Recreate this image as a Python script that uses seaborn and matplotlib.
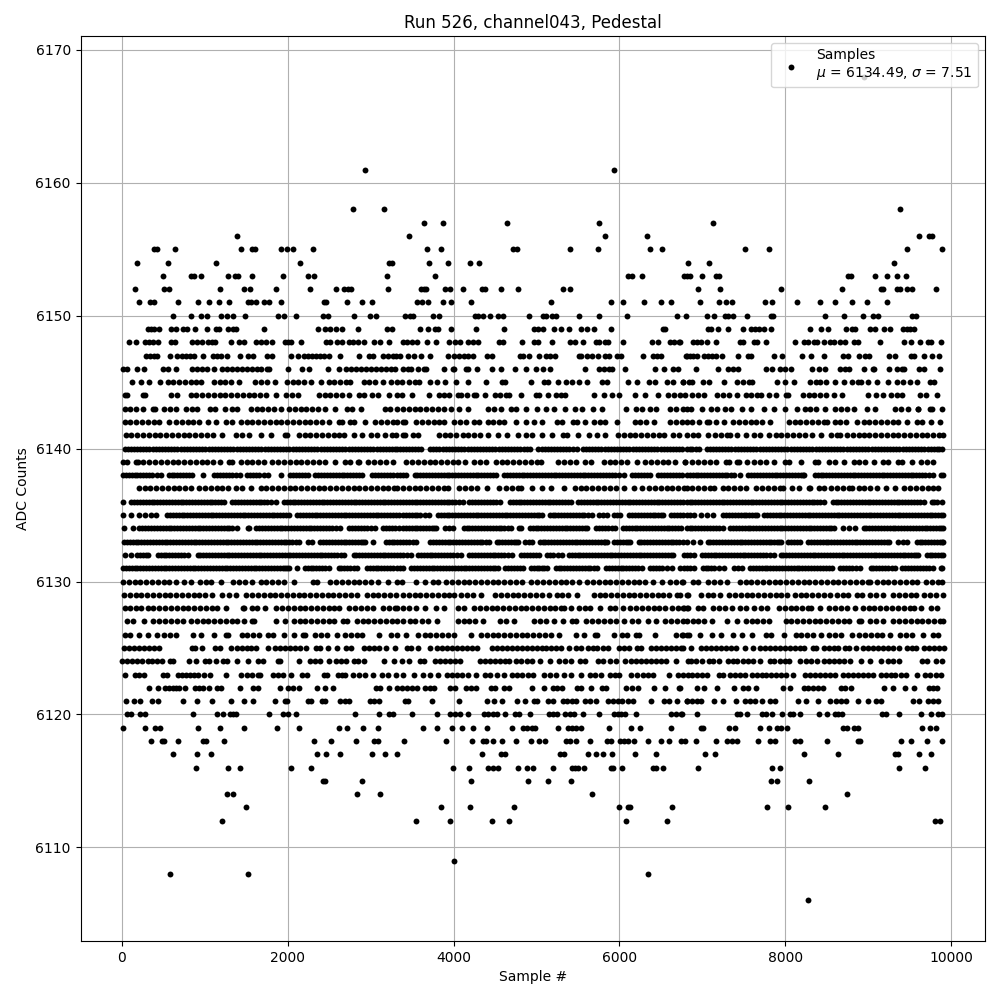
import numpy as np
import pandas as pd
import seaborn as sns
from matplotlib import pyplot as plt

# sample numbers, one list per ADC level
x_6168 = [8948]
x_6161 = [2928, 5932]
x_6158 = [2784, 3156, 9376]
x_6157 = [3640, 3868, 4648, 5752, 7132]
x_6156 = [1392, 3460, 5824, 6328, 9616, 9732, 9772]
x_6155 = [390, 420, 648, 1440, 1576, 1608, 1920, 1992, 2064, 2304, 3676, 3844, 4720, 4760, 5404, 5740, 6364, 6508, 7516, 7804, 9460, 9892]
x_6154 = [180, 552, 1140, 2148, 3224, 3256, 3700, 3928, 4204, 4312, 6820, 7084, 9304]
x_6153 = [492, 836, 872, 960, 1284, 1368, 1400, 1572, 1944, 2244, 2316, 3192, 3772, 6100, 6148, 6268, 6772, 6808, 6852, 7000, 7164, 7204, 8760, 8796, 9076, 9220, 9340, 9448]
x_6152 = [156, 504, 568, 1188, 1476, 1548, 1860, 2268, 2580, 2676, 2724, 2760, 3204, 3608, 3640, 3672, 3892, 3952, 4108, 4348, 4380, 4576, 4780, 5320, 5404, 6952, 7216, 7948, 8680, 9148, 9180, 9340, 9380, 9460, 9532, 9820]
x_6151 = [204, 336, 384, 684, 924, 1056, 1176, 1296, 1524, 1560, 1624, 1716, 1776, 1920, 2436, 2464, 2712, 2892, 3012, 3556, 3616, 3688, 3868, 3964, 4216, 5176, 5896, 6040, 6292, 6496, 6616, 6976, 7204, 7288, 7360, 7756, 7840, 8140, 8416, 8596, 8800, 8980, 9220]
x_6150 = [612, 840, 960, 1024, 1200, 1272, 1344, 1488, 1884, 1956, 2104, 2424, 2484, 2796, 2988, 3064, 3412, 3472, 3512, 3748, 3820, 4264, 4300, 4352, 4444, 4540, 4600, 4912, 5080, 5112, 5188, 5240, 5512, 5752, 6088, 6688, 6796, 7060, 7144, 7276, 7312, 7372, 7540, 7828, 7852, 8476, 8704, 8932, 9052, 9116, 9532, 9572]
x_6149 = [312, 352, 384, 444, 588, 660, 744, 792, 884, 1032, 1136, 1168, 1284, 1344, 1376, 1716, 2364, 2448, 2508, 2580, 2652, 2844, 3192, 3256, 3592, 3688, 3772, 3812, 3964, 4276, 4612, 4972, 5012, 5080, 5212, 5296, 5392, 5536, 5608, 5692, 5896, 6520, 6552, 7072, 7100, 7192, 7312, 7492, 7588, 7636, 7684, 7744, 7828, 8296, 8428, 8512, 8728, 8800, 8844, 9016, 9076, 9184, 9256, 9412, 9460, 9500, 9556]
x_6148 = [84, 168, 284, 324, 372, 432, 596, 640, 852, 912, 972, 1044, 1084, 1124, 1320, 1416, 1472, 1624, 1684, 1744, 1812, 1968, 2004, 2044, 2160, 2460, 2508, 2592, 2652, 2736, 2784, 2844, 2916, 3036, 3108, 3216, 3392, 3440, 3500, 3560, 3680, 3788, 3940, 4020, 4080, 4168, 4240, 4300, 4552, 4592, 4828, 4972, 5020, 5192, 5404, 5468, 5560, 5720, 5752, 5824, 5860, 6040, 6388, 6460, 6608, 6660, 6712, 6732, 6892, 6940, 6980, 7060, 7168, 7456, 7492, 7624, 7660, 7768, 8116, 8224, 8272, 8344, 8380, 8460, 8540, 8580, 8660, 8716, 8828, 8876, 9136, 9424, 9508, 9628, 9724, 9760, 9880]
x_6147 = [296, 336, 384, 424, 576, 672, 724, 776, 824, 872, 984, 1104, 1144, 1200, 1272, 1428, 1524, 1584, 1752, 1816, 2044, 2124, 2200, 2248, 2296, 2344, 2392, 2444, 2504, 2632, 2856, 2976, 3024, 3144, 3204, 3264, 3312, 3360, 3448, 3528, 3608, 3712, 3928, 4000, 4060, 4120, 4180, 4240, 4400, 4464, 4800, 4840, 4912, 5032, 5120, 5164, 5220, 5512, 5540, 5608, 5668, 5744, 5824, 5872, 5968, 6016, 6280, 6400, 6448, 6496, 6800, 6812, 6852, 6892, 6940, 7020, 7072, 7120, 7164, 7240, 7432, 7552, 7588, 7864, 7960, 8200, 8308, 8464, 8692, 8752, 8892, 8956, 9012, 9244, 9316, 9520, 9552, 9676, 9772, 9856]
x_6146 = [10, 60, 190, 270, 500, 560, 660, 850, 910, 970, 1030, 1110, 1210, 1270, 1330, 1390, 1450, 1510, 1570, 1630, 1684, 1750, 1780, 2004, 2172, 2256, 2490, 2624, 2700, 2760, 2820, 2880, 2940, 3000, 3060, 3120, 3180, 3240, 3295, 3390, 3450, 3490, 3570, 3640, 3670, 3880, 3990, 4010, 4150, 4170, 4280, 4468, 4568, 4744, 4875, 4992, 5080, 5168, 5584, 5750, 5810, 5870, 5910, 6064, 6430, 6532, 6650, 6710, 6920, 7192, 7310, 7370, 7425, 7765, 7844, 7940, 8000, 8065, 8320, 8404, 8476, 8660, 8720, 8765, 8944, 9050, 9065, 9244, 9340, 9400, 9425, 9610, 9665, 9868]
x_6145 = [125, 235, 324, 456, 555, 620, 690, 760, 830, 900, 955, 1115, 1180, 1250, 1320, 1415, 1605, 1675, 1755, 1845, 1995, 2060, 2130, 2200, 2285, 2400, 2495, 2560, 2630, 2700, 2755, 2915, 2980, 3050, 3150, 3248, 3324, 3376, 3460, 3530, 3580, 3710, 3800, 3900, 4025, 4180, 4395, 4585, 4620, 4936, 5090, 5140, 5260, 5360, 5430, 5510, 5612, 5790, 5845, 6100, 6208, 6360, 6430, 6570, 6650, 6760, 6765, 6840, 6880, 7010, 7085, 7264, 7420, 7490, 7560, 7595, 7900, 7990, 8104, 8300, 8370, 8415, 8492, 8596, 8704, 8800, 8870, 8915, 8992, 9108, 9232, 9350, 9420, 9505, 9592, 9740, 9795]
x_6144 = [35, 65, 255, 280, 595, 665, 835, 900, 970, 1040, 1110, 1180, 1250, 1320, 1390, 1460, 1530, 1600, 1670, 1740, 1855, 1980, 2050, 2120, 2375, 2445, 2515, 2585, 2655, 2745, 2855, 2925, 3015, 3084, 3216, 3315, 3376, 3500, 3700, 3820, 3890, 3950, 4050, 4090, 4160, 4250, 4270, 4384, 4495, 4560, 4630, 4670, 4816, 4990, 5030, 5140, 5240, 5300, 5340, 5692, 5808, 5910, 5990, 6184, 6310, 6460, 6590, 6660, 6730, 6790, 6870, 6950, 7020, 7180, 7250, 7320, 7420, 7520, 7590, 7660, 7700, 7804, 7892, 8010, 8030, 8210, 8280, 8350, 8420, 8490, 8580, 8680, 8992, 9095, 9180, 9275, 9340, 9400, 9622, 9700, 9832]
x_6143 = [35, 100, 170, 254, 375, 400, 515, 585, 655, 775, 845, 905, 1062, 1122, 1240, 1326, 1394, 1555, 1625, 1695, 1765, 1835, 1915, 2015, 2085, 2155, 2225, 2295, 2365, 2455, 2576, 2715, 2774, 2884, 3175, 3234, 3324, 3390, 3460, 3530, 3600, 3670, 3740, 3810, 3880, 3970, 4070, 4170, 4420, 4490, 4570, 4690, 4750, 4876, 5008, 5118, 5208, 5348, 5460, 5552, 5680, 5790, 6080, 6200, 6270, 6370, 6440, 6610, 6680, 6760, 6810, 6860, 7000, 7100, 7175, 7274, 7350, 7482, 7582, 7744, 7864, 8000, 8134, 8235, 8300, 8370, 8482, 8600, 8670, 8740, 8830, 8980, 9082, 9320, 9390, 9480, 9594, 9602, 9740, 9762, 9888]
x_6142 = [35, 105, 175, 245, 315, 385, 455, 574, 655, 725, 795, 865, 935, 1034, 1140, 1254, 1334, 1435, 1505, 1575, 1645, 1715, 1785, 1855, 1914, 1995, 2065, 2135, 2205, 2275, 2345, 2415, 2494, 2615, 2654, 2755, 2802, 2928, 3055, 3125, 3195, 3265, 3314, 3390, 3410, 3550, 3620, 3690, 3760, 3830, 3890, 4010, 4080, 4150, 4250, 4310, 4410, 4480, 4550, 4602, 4758, 4870, 4970, 5070, 5250, 5310, 5438, 5490, 5580, 5690, 5760, 5830, 5968, 6182, 6250, 6320, 6418, 6610, 6680, 6750, 6810, 6880, 6962, 7050, 7082, 7162, 7254, 7370, 7440, 7510, 7580, 7650, 7720, 7814, 8042, 8110, 8180, 8250, 8320, 8390, 8460, 8502, 8594, 8664, 8735, 8862, 8942, 9012, 9082, 9152, 9222, 9292, 9362, 9462, 9582, 9642, 9754, 9862]
x_6141 = [46, 116, 186, 256, 326, 396, 466, 536, 606, 676, 746, 816, 886, 956, 1026, 1096, 1214, 1374, 1444, 1534, 1674, 1794, 1974, 1994, 2134, 2204, 2274, 2344, 2414, 2484, 2554, 2624, 2674, 2794, 2894, 3006, 3076, 3174, 3256, 3312, 3390, 3410, 3510, 3570, 3822, 3892, 3962, 4030, 4110, 4180, 4250, 4320, 4410, 4530, 4650, 4782, 4878, 4950, 5070, 5190, 5318, 5370, 5498, 5630, 5730, 5830, 5982, 6052, 6122, 6192, 6262, 6332, 6402, 6472, 6542, 6650, 6720, 6810, 6882, 6952, 7062, 7154, 7224, 7294, 7334, 7422, 7522, 7622, 7692, 7802, 7882, 7952, 8022, 8092, 8162, 8232, 8322, 8434, 8550, 8622, 8662, 8742, 8812, 8882, 8952, 9002, 9082, 9152, 9222, 9292, 9362, 9432, 9502, 9572, 9642, 9712, 9782, 9852, 9902]
x_6140 = [34, 72, 109, 147, 184, 222, 259, 297, 334, 372, 409, 447, 484, 522, 559, 597, 634, 672, 709, 747, 784, 822, 859, 897, 934, 972, 1009, 1047, 1084, 1122, 1159, 1197, 1234, 1272, 1309, 1347, 1384, 1422, 1459, 1497, 1534, 1572, 1609, 1647, 1684, 1722, 1759, 1797, 1834, 1872, 1909, 1947, 1984, 2022, 2059, 2097, 2134, 2172, 2209, 2247, 2284, 2322, 2359, 2397, 2434, 2472, 2509, 2547, 2584, 2622, 2659, 2697, 2734, 2772, 2809, 2847, 2884, 2922, 2959, 2997, 3034, 3072, 3109, 3147, 3184, 3222, 3259, 3297, 3314, 3352, 3390, 3425, 3460, 3495, 3530, 3566, 3602, 3718, 3755, 3793, 3830, 3868, 3905, 3943, 3980, 4018, 4055, 4093, 4130, 4168, 4205, 4243, 4280, 4318, 4355, 4393, 4430, 4468, 4505, 4543, 4580, 4618, 4655, 4693, 4730, 4768, 4805, 4843, 4882, 4922, 5022, 5060, 5097, 5135, 5172, 5210, 5247, 5285, 5322, 5360, 5397, 5440, 5482, 5558, 5595, 5633, 5670, 5708, 5745, 5783, 5820, 5858, 5895, 5933, 5970, 6008, 6045, 6083, 6120, 6158, 6195, 6233, 6270, 6308, 6345, 6383, 6420, 6458, 6495, 6533, 6570, 6608, 6645, 6683, 6720, 6758, 6810, 6845, 6880, 6920, 6962, 7050, 7088, 7125, 7163, 7200, 7238, 7275, 7313, 7350, 7388, 7425, 7463, 7500, 7538, 7575, 7613, 7650, 7688, 7725, 7763, 7800, 7838, 7875, 7913, 7950, 7988, 8025, 8063, 8100, 8138, 8175, 8213, 8250, 8288, 8325, 8363, 8400, 8438, 8475, 8513, 8550, 8588, 8625, 8663, 8700, 8738, 8775, 8813, 8850, 8888, 8925, 8963, 9000, 9038, 9075, 9113, 9150, 9188, 9225, 9263, 9300, 9338, 9375, 9413, 9450, 9488, 9525, 9563, 9600, 9638, 9675, 9713, 9750, 9788, 9825, 9855, 9882]
x_6139 = [14, 66, 174, 194, 262, 332, 402, 472, 542, 612, 682, 752, 822, 892, 962, 1032, 1102, 1186, 1294, 1334, 1434, 1504, 1574, 1644, 1714, 1814, 1886, 1956, 2026, 2096, 2166, 2236, 2306, 2376, 2446, 2574, 2694, 2754, 2846, 2866, 2974, 3044, 3114, 3184, 3266, 3430, 3500, 3570, 3640, 3710, 3780, 3850, 3920, 3990, 4050, 4140, 4250, 4320, 4390, 4510, 4580, 4650, 4720, 4790, 4860, 4930, 5000, 5058, 5262, 5332, 5402, 5472, 5590, 5660, 5810, 5880, 5950, 6020, 6090, 6210, 6310, 6380, 6450, 6520, 6590, 6670, 6790, 6794, 6880, 6950, 7020, 7090, 7162, 7282, 7322, 7422, 7442, 7540, 7622, 7692, 7762, 7862, 7994, 8042, 8188, 8354, 8390, 8530, 8600, 8702, 8822, 8892, 8962, 9062, 9182, 9242, 9362, 9402, 9522, 9634, 9704, 9782]
x_6138 = [14, 50, 84, 120, 154, 190, 224, 260, 294, 330, 364, 420, 474, 566, 600, 636, 670, 706, 740, 776, 810, 846, 974, 1114, 1150, 1184, 1220, 1254, 1290, 1324, 1376, 1426, 1514, 1550, 1584, 1620, 1654, 1710, 1762, 1914, 2034, 2070, 2104, 2140, 2174, 2210, 2246, 2334, 2370, 2404, 2440, 2474, 2510, 2544, 2580, 2614, 2650, 2684, 2720, 2754, 2790, 2824, 2860, 2894, 3022, 3058, 3092, 3128, 3162, 3198, 3232, 3275, 3314, 3350, 3390, 3430, 3530, 3565, 3600, 3635, 3670, 3705, 3740, 3775, 3810, 3845, 3880, 3915, 3950, 3985, 4020, 4055, 4090, 4125, 4160, 4195, 4230, 4265, 4300, 4335, 4370, 4405, 4440, 4475, 4510, 4610, 4645, 4680, 4715, 4750, 4785, 4820, 4855, 4890, 4925, 4960, 4995, 5030, 5065, 5100, 5135, 5170, 5205, 5240, 5275, 5310, 5345, 5380, 5415, 5450, 5485, 5520, 5555, 5590, 5625, 5660, 5695, 5730, 5765, 5800, 5835, 5870, 5905, 5940, 5995, 6050, 6150, 6185, 6220, 6255, 6290, 6330, 6370, 6470, 6505, 6540, 6575, 6610, 6645, 6680, 6715, 6750, 6810, 6845, 6882, 6917, 6952, 6987, 7022, 7057, 7092, 7127, 7162, 7197, 7232, 7267, 7302, 7342, 7382, 7452, 7554, 7589, 7624, 7659, 7694, 7729, 7764, 7799, 7834, 7869, 7904, 7939, 7974, 8009, 8044, 8079, 8114, 8149, 8184, 8207, 8230, 8354, 8389, 8424, 8459, 8494, 8529, 8564, 8599, 8634, 8669, 8704, 8739, 8774, 8809, 8844, 8879, 8914, 8949, 8984, 9019, 9054, 9089, 9124, 9159, 9194, 9229, 9264, 9299, 9334, 9369, 9404, 9439, 9474, 9509, 9544, 9579, 9614, 9649, 9684, 9729, 9774, 9874, 9894]
x_6137 = [206, 276, 346, 416, 486, 556, 626, 696, 766, 834, 934, 1004, 1074, 1144, 1214, 1282, 1374, 1444, 1554, 1674, 1744, 1814, 1884, 1954, 2024, 2094, 2164, 2234, 2304, 2374, 2444, 2514, 2584, 2654, 2724, 2794, 2864, 2934, 3004, 3074, 3144, 3214, 3284, 3314, 3390, 3460, 3530, 3600, 3670, 3740, 3810, 3880, 3930, 4070, 4140, 4210, 4280, 4402, 4550, 4632, 4710, 4780, 4818, 4950, 5070, 5180, 5328, 5462, 5532, 5602, 5672, 5742, 5812, 5882, 5952, 6050, 6170, 6270, 6358, 6428, 6498, 6568, 6638, 6708, 6778, 6810, 6880, 6950, 7020, 7090, 7142, 7242, 7312, 7382, 7452, 7522, 7650, 7720, 7790, 7860, 7930, 7974, 8082, 8162, 8282, 8302, 8402, 8462, 8554, 8624, 8694, 8764, 8802, 8882, 8952, 9022, 9102, 9210, 9322, 9434, 9504, 9574, 9644, 9714, 9784, 9842]
x_6136 = [12, 114, 149, 184, 219, 254, 289, 324, 359, 394, 429, 464, 499, 534, 569, 604, 639, 674, 709, 744, 779, 814, 849, 884, 919, 954, 989, 1024, 1059, 1094, 1129, 1164, 1199, 1234, 1334, 1369, 1404, 1439, 1474, 1509, 1544, 1579, 1614, 1649, 1684, 1719, 1754, 1804, 1854, 1954, 1989, 2024, 2059, 2094, 2129, 2164, 2199, 2234, 2269, 2304, 2339, 2374, 2409, 2444, 2479, 2514, 2549, 2584, 2619, 2654, 2689, 2724, 2759, 2794, 2829, 2864, 2899, 2934, 2969, 3004, 3039, 3074, 3109, 3144, 3179, 3214, 3249, 3284, 3314, 3352, 3390, 3425, 3460, 3495, 3530, 3565, 3600, 3635, 3670, 3705, 3740, 3775, 3810, 3845, 3880, 3915, 3950, 3985, 4020, 4065, 4110, 4190, 4225, 4260, 4295, 4330, 4365, 4400, 4435, 4470, 4515, 4562, 4678, 4713, 4748, 4783, 4818, 4853, 4888, 4923, 4958, 4993, 5028, 5063, 5098, 5133, 5168, 5203, 5238, 5273, 5308, 5343, 5378, 5410, 5502, 5537, 5572, 5607, 5642, 5677, 5712, 5747, 5782, 5817, 5852, 5887, 5922, 5957, 5992, 6027, 6062, 6097, 6132, 6167, 6202, 6237, 6272, 6307, 6342, 6377, 6412, 6447, 6482, 6517, 6552, 6587, 6622, 6657, 6692, 6727, 6762, 6810, 6845, 6880, 6915, 6950, 6985, 7020, 7055, 7090, 7125, 7160, 7195, 7230, 7265, 7300, 7335, 7370, 7405, 7440, 7475, 7510, 7545, 7580, 7615, 7650, 7685, 7720, 7755, 7790, 7825, 7860, 7895, 7930, 7965, 8000, 8035, 8070, 8105, 8140, 8175, 8210, 8245, 8280, 8315, 8350, 8385, 8420, 8462, 8570, 8605, 8640, 8675, 8710, 8745, 8780, 8815, 8850, 8885, 8920, 8955, 8990, 9025, 9060, 9095, 9130, 9165, 9200, 9235, 9270, 9305, 9340, 9375, 9410, 9445, 9480, 9515, 9550, 9585, 9620, 9670, 9762, 9797, 9832, 9882]
x_6135 = [14, 106, 214, 284, 354, 414, 546, 581, 616, 651, 686, 721, 756, 791, 826, 861, 896, 931, 966, 1001, 1036, 1071, 1106, 1141, 1176, 1211, 1246, 1281, 1316, 1351, 1386, 1421, 1456, 1491, 1526, 1561, 1596, 1631, 1666, 1701, 1736, 1771, 1806, 1841, 1876, 1911, 1946, 1980, 2014, 2114, 2149, 2184, 2219, 2254, 2289, 2324, 2359, 2394, 2429, 2464, 2499, 2534, 2569, 2604, 2639, 2674, 2709, 2744, 2779, 2814, 2849, 2884, 2919, 2954, 2989, 3024, 3059, 3094, 3129, 3164, 3199, 3234, 3269, 3304, 3345, 3390, 3425, 3460, 3495, 3530, 3565, 3600, 3650, 3698, 3810, 3845, 3880, 3915, 3950, 3985, 4020, 4055, 4090, 4125, 4160, 4195, 4230, 4265, 4300, 4335, 4370, 4405, 4440, 4475, 4510, 4545, 4580, 4615, 4650, 4685, 4720, 4755, 4790, 4825, 4860, 4895, 4930, 4965, 5000, 5035, 5070, 5158, 5193, 5228, 5263, 5298, 5333, 5368, 5403, 5438, 5473, 5508, 5543, 5578, 5625, 5670, 5758, 5805, 5850, 5930, 5970, 6010, 6118, 6153, 6188, 6223, 6258, 6293, 6328, 6363, 6398, 6433, 6468, 6499, 6530, 6622, 6657, 6692, 6727, 6762, 6810, 6855, 6902, 6982, 7052, 7122, 7250, 7285, 7320, 7355, 7390, 7425, 7460, 7495, 7530, 7565, 7600, 7632, 7662, 7742, 7777, 7812, 7847, 7882, 7917, 7952, 7987, 8022, 8057, 8092, 8127, 8162, 8197, 8232, 8267, 8302, 8337, 8372, 8407, 8442, 8477, 8512, 8547, 8582, 8617, 8652, 8687, 8722, 8757, 8792, 8827, 8862, 8897, 8932, 8967, 9002, 9037, 9072, 9107, 9142, 9177, 9212, 9247, 9282, 9317, 9352, 9387, 9422, 9457, 9492, 9527, 9562, 9597, 9632, 9667, 9702, 9737, 9772, 9807, 9842, 9872, 9902]
x_6134 = [26, 134, 214, 249, 284, 319, 354, 389, 424, 459, 494, 529, 564, 599, 634, 669, 704, 739, 774, 809, 844, 879, 914, 949, 984, 1019, 1054, 1089, 1124, 1159, 1194, 1229, 1264, 1299, 1334, 1386, 1526, 1534, 1622, 1657, 1692, 1727, 1762, 1797, 1832, 1867, 1902, 1937, 1972, 2007, 2042, 2077, 2112, 2147, 2182, 2217, 2252, 2287, 2322, 2357, 2392, 2427, 2462, 2497, 2532, 2584, 2634, 2742, 2777, 2812, 2847, 2882, 2917, 2952, 3003, 3054, 3154, 3189, 3224, 3259, 3294, 3340, 3390, 3425, 3460, 3495, 3530, 3565, 3600, 3635, 3670, 3705, 3740, 3765, 3790, 3902, 3946, 3990, 4122, 4157, 4192, 4227, 4262, 4297, 4332, 4367, 4402, 4437, 4472, 4507, 4542, 4577, 4612, 4655, 4698, 4790, 4818, 4918, 4953, 4988, 5023, 5058, 5093, 5128, 5163, 5198, 5233, 5268, 5303, 5338, 5373, 5408, 5443, 5478, 5513, 5548, 5580, 5610, 5718, 5753, 5788, 5823, 5858, 5904, 5950, 6042, 6077, 6112, 6147, 6182, 6217, 6252, 6287, 6322, 6357, 6392, 6427, 6462, 6497, 6532, 6567, 6602, 6637, 6672, 6707, 6742, 6810, 6845, 6880, 6915, 6950, 6985, 7020, 7055, 7090, 7125, 7160, 7200, 7242, 7334, 7369, 7404, 7439, 7474, 7509, 7544, 7579, 7614, 7649, 7684, 7719, 7754, 7789, 7824, 7859, 7894, 7929, 7964, 7999, 8034, 8069, 8104, 8139, 8174, 8209, 8244, 8279, 8314, 8349, 8384, 8419, 8454, 8489, 8524, 8553, 8582, 8690, 8766, 8842, 8942, 8977, 9012, 9047, 9082, 9117, 9152, 9187, 9222, 9257, 9292, 9327, 9362, 9397, 9432, 9467, 9502, 9537, 9572, 9607, 9642, 9677, 9712, 9747, 9782, 9817, 9852, 9877, 9902]
x_6133 = [26, 61, 96, 131, 166, 201, 236, 271, 306, 341, 376, 411, 446, 481, 516, 551, 586, 621, 656, 691, 726, 761, 796, 831, 866, 901, 936, 971, 1006, 1041, 1076, 1111, 1146, 1181, 1216, 1251, 1286, 1321, 1356, 1391, 1426, 1461, 1496, 1531, 1566, 1601, 1636, 1671, 1706, 1741, 1776, 1811, 1846, 1881, 1916, 1951, 1986, 2021, 2056, 2095, 2134, 2242, 2294, 2394, 2429, 2464, 2499, 2534, 2569, 2604, 2639, 2674, 2709, 2744, 2779, 2814, 2849, 2884, 2909, 2934, 3034, 3186, 3221, 3256, 3285, 3314, 3352, 3390, 3425, 3460, 3505, 3550, 3718, 3753, 3788, 3823, 3858, 3893, 3928, 3963, 3998, 4033, 4068, 4103, 4138, 4173, 4208, 4243, 4278, 4313, 4348, 4389, 4430, 4518, 4553, 4588, 4623, 4658, 4693, 4728, 4753, 4778, 4862, 4906, 4950, 5038, 5073, 5108, 5143, 5178, 5213, 5248, 5283, 5318, 5353, 5388, 5423, 5458, 5493, 5528, 5563, 5598, 5633, 5668, 5703, 5738, 5773, 5808, 5829, 5850, 5938, 5973, 6008, 6043, 6078, 6104, 6130, 6230, 6265, 6300, 6335, 6370, 6405, 6440, 6475, 6510, 6545, 6580, 6615, 6650, 6685, 6720, 6765, 6810, 6892, 6974, 7062, 7097, 7132, 7167, 7202, 7237, 7272, 7307, 7342, 7377, 7412, 7447, 7482, 7517, 7552, 7587, 7622, 7657, 7692, 7727, 7762, 7797, 7832, 7867, 7902, 7926, 7950, 8034, 8069, 8104, 8139, 8174, 8274, 8309, 8344, 8379, 8414, 8449, 8484, 8519, 8554, 8589, 8624, 8659, 8694, 8729, 8764, 8799, 8834, 8869, 8904, 8939, 8974, 9009, 9044, 9079, 9114, 9149, 9184, 9219, 9254, 9354, 9412, 9470, 9582, 9617, 9652, 9687, 9722, 9757, 9792, 9827, 9862, 9882, 9902]
x_6132 = [34, 106, 182, 217, 252, 287, 322, 434, 469, 504, 539, 574, 609, 644, 679, 714, 754, 794, 914, 949, 984, 1019, 1054, 1089, 1124, 1159, 1194, 1229, 1264, 1299, 1334, 1369, 1404, 1439, 1474, 1509, 1544, 1579, 1614, 1649, 1684, 1719, 1754, 1789, 1824, 1859, 1894, 1929, 1964, 1999, 2034, 2069, 2104, 2139, 2174, 2209, 2244, 2279, 2314, 2349, 2384, 2419, 2454, 2489, 2524, 2559, 2594, 2638, 2682, 2794, 2829, 2864, 2899, 2934, 2969, 3004, 3039, 3074, 3109, 3144, 3179, 3214, 3249, 3284, 3314, 3352, 3390, 3436, 3482, 3570, 3605, 3640, 3675, 3710, 3745, 3780, 3815, 3850, 3885, 3920, 3955, 3990, 4040, 4090, 4190, 4225, 4260, 4295, 4330, 4365, 4400, 4435, 4470, 4505, 4540, 4575, 4610, 4660, 4710, 4818, 4853, 4888, 4923, 4958, 4994, 5030, 5130, 5165, 5200, 5255, 5310, 5390, 5425, 5460, 5495, 5530, 5565, 5600, 5635, 5670, 5705, 5740, 5775, 5810, 5845, 5880, 5915, 5950, 5985, 6020, 6055, 6090, 6125, 6160, 6195, 6230, 6265, 6300, 6335, 6370, 6405, 6440, 6475, 6510, 6545, 6580, 6615, 6650, 6782, 6810, 6856, 6902, 6994, 7029, 7064, 7099, 7134, 7169, 7204, 7239, 7274, 7309, 7344, 7379, 7414, 7449, 7484, 7519, 7554, 7589, 7624, 7659, 7694, 7729, 7764, 7813, 7862, 7942, 7977, 8012, 8047, 8082, 8117, 8152, 8187, 8222, 8257, 8292, 8327, 8362, 8397, 8432, 8467, 8502, 8537, 8572, 8607, 8642, 8677, 8712, 8747, 8782, 8817, 8852, 8887, 8922, 8957, 8992, 9027, 9062, 9097, 9132, 9167, 9202, 9237, 9272, 9307, 9342, 9377, 9412, 9447, 9482, 9517, 9552, 9577, 9602, 9702, 9737, 9772, 9807, 9842, 9872, 9902]
x_6131 = [14, 49, 84, 119, 154, 189, 224, 259, 294, 329, 364, 399, 434, 469, 504, 539, 574, 609, 644, 679, 714, 749, 784, 819, 854, 889, 924, 959, 994, 1029, 1064, 1099, 1134, 1169, 1204, 1239, 1274, 1309, 1344, 1379, 1414, 1449, 1484, 1519, 1554, 1589, 1624, 1659, 1694, 1729, 1764, 1799, 1834, 1869, 1904, 1939, 1974, 1994, 2014, 2112, 2206, 2241, 2276, 2311, 2346, 2381, 2416, 2455, 2494, 2614, 2649, 2684, 2719, 2754, 2794, 2834, 2954, 2989, 3024, 3059, 3094, 3129, 3164, 3199, 3234, 3274, 3314, 3352, 3390, 3490, 3525, 3560, 3595, 3630, 3665, 3700, 3735, 3770, 3805, 3840, 3875, 3910, 3945, 3980, 4015, 4050, 4085, 4120, 4155, 4190, 4225, 4260, 4295, 4330, 4365, 4400, 4435, 4470, 4500, 4530, 4622, 4657, 4692, 4727, 4762, 4802, 4842, 4930, 4965, 5000, 5035, 5070, 5096, 5122, 5230, 5265, 5300, 5335, 5370, 5405, 5440, 5475, 5510, 5545, 5580, 5615, 5650, 5690, 5730, 5838, 5873, 5908, 5943, 5978, 6013, 6048, 6083, 6118, 6153, 6188, 6229, 6270, 6370, 6405, 6440, 6475, 6510, 6570, 6630, 6730, 6782, 6810, 6856, 6902, 7002, 7037, 7072, 7107, 7142, 7202, 7262, 7382, 7432, 7482, 7574, 7609, 7644, 7679, 7714, 7749, 7784, 7819, 7854, 7889, 7924, 7959, 7994, 8029, 8064, 8099, 8134, 8169, 8204, 8239, 8274, 8309, 8344, 8379, 8414, 8449, 8484, 8523, 8562, 8662, 8697, 8732, 8767, 8802, 8852, 8902, 9026, 9061, 9096, 9131, 9166, 9201, 9236, 9279, 9322, 9410, 9445, 9480, 9515, 9550, 9585, 9620, 9655, 9690, 9736, 9782, 9874, 9882]
x_6130 = [14, 84, 154, 224, 294, 364, 434, 504, 574, 654, 754, 834, 942, 1012, 1082, 1202, 1342, 1412, 1482, 1574, 1674, 1744, 1814, 1884, 1954, 2074, 2306, 2354, 2514, 2584, 2654, 2724, 2794, 2864, 2934, 3004, 3094, 3214, 3314, 3378, 3542, 3650, 3750, 3810, 3910, 3980, 4050, 4120, 4190, 4260, 4330, 4400, 4470, 4540, 4610, 4680, 4750, 4820, 4930, 5010, 5080, 5150, 5220, 5290, 5360, 5430, 5510, 5610, 5680, 5750, 5820, 5890, 5960, 6030, 6100, 6170, 6240, 6310, 6410, 6510, 6610, 6680, 6750, 6762, 6882, 6952, 7062, 7142, 7212, 7302, 7450, 7520, 7590, 7660, 7730, 7800, 7870, 7940, 8010, 8080, 8150, 8220, 8290, 8360, 8430, 8500, 8570, 8640, 8710, 8780, 8850, 8920, 8990, 9022, 9102, 9172, 9242, 9312, 9382, 9452, 9522, 9582, 9694, 9764, 9834, 9882]
x_6129 = [26, 96, 166, 236, 306, 376, 446, 516, 586, 656, 726, 796, 866, 936, 1006, 1094, 1206, 1294, 1376, 1502, 1572, 1642, 1712, 1782, 1852, 1922, 1992, 2062, 2132, 2202, 2272, 2342, 2412, 2482, 2552, 2622, 2692, 2762, 2834, 2954, 3024, 3094, 3164, 3234, 3312, 3390, 3460, 3530, 3600, 3670, 3740, 3810, 3880, 3950, 4002, 4090, 4160, 4230, 4330, 4502, 4572, 4642, 4712, 4782, 4852, 4922, 4992, 5062, 5150, 5242, 5312, 5382, 5490, 5690, 5760, 5830, 5900, 5970, 6040, 6110, 6180, 6250, 6320, 6390, 6460, 6530, 6600, 6690, 6810, 6732, 6822, 6982, 7062, 7132, 7214, 7322, 7392, 7462, 7532, 7602, 7672, 7742, 7812, 7882, 7952, 8022, 8114, 8184, 8254, 8324, 8394, 8464, 8534, 8622, 8692, 8752, 8862, 8922, 9022, 9092, 9182, 9302, 9372, 9442, 9512, 9580, 9674, 9744, 9814, 9902]
x_6128 = [34, 104, 174, 234, 314, 374, 454, 524, 594, 664, 734, 804, 874, 944, 1014, 1084, 1154, 1254, 1462, 1474, 1574, 1634, 1722, 1854, 1934, 2004, 2074, 2144, 2214, 2284, 2354, 2424, 2494, 2554, 2616, 2742, 2812, 2882, 2952, 3026, 3154, 3224, 3294, 3314, 3390, 3460, 3550, 3650, 3790, 3880, 4050, 4120, 4250, 4318, 4388, 4458, 4528, 4598, 4668, 4738, 4808, 4878, 4948, 5018, 5088, 5158, 5228, 5298, 5330, 5420, 5510, 5580, 5650, 5762, 5890, 5950, 6038, 6130, 6202, 6272, 6342, 6412, 6482, 6550, 6638, 6708, 6778, 6810, 6762, 6830, 6942, 7012, 7122, 7202, 7272, 7362, 7450, 7520, 7622, 7702, 7782, 7922, 7992, 8062, 8132, 8202, 8272, 8314, 8412, 8530, 8600, 8670, 8740, 8842, 8934, 9004, 9074, 9144, 9214, 9284, 9354, 9424, 9502, 9552, 9634, 9750, 9832]
x_6127 = [62, 132, 266, 382, 452, 522, 592, 662, 734, 834, 904, 974, 1044, 1114, 1184, 1254, 1324, 1394, 1474, 1574, 1594, 1854, 1974, 2074, 2144, 2214, 2284, 2354, 2424, 2494, 2554, 2662, 2714, 2834, 2904, 2974, 3044, 3114, 3184, 3254, 3314, 3390, 3470, 3530, 3622, 3692, 3802, 4050, 4120, 4190, 4260, 4350, 4558, 4628, 4730, 4970, 5040, 5110, 5210, 5320, 5422, 5470, 5602, 5672, 5742, 5812, 5882, 5952, 6050, 6150, 6220, 6338, 6438, 6550, 6620, 6690, 6760, 6810, 6882, 6952, 7014, 7120, 7302, 7422, 7522, 7592, 7662, 7732, 7802, 8002, 8072, 8142, 8212, 8282, 8352, 8422, 8492, 8562, 8632, 8702, 8762, 8882, 8910, 9022, 9092, 9182, 9302, 9372, 9442, 9512, 9582, 9652, 9722, 9792, 9862, 9902]
x_6126 = [34, 104, 214, 320, 424, 514, 584, 654, 854, 954, 1114, 1254, 1282, 1446, 1516, 1586, 1654, 1764, 1824, 1954, 2074, 2182, 2214, 2334, 2404, 2474, 2594, 2694, 2764, 2834, 2894, 3106, 3246, 3314, 3422, 3570, 3650, 3720, 3790, 3860, 3930, 4010, 4212, 4330, 4400, 4470, 4540, 4610, 4680, 4750, 4820, 4890, 4960, 5030, 5100, 5170, 5270, 5470, 5570, 5710, 5730, 5932, 6030, 6090, 6198, 6230, 6424, 6678, 6750, 6810, 6762, 6832, 6974, 7120, 7228, 7372, 7474, 7602, 7762, 7832, 7982, 8122, 8192, 8262, 8332, 8430, 8530, 8600, 8670, 8802, 8890, 8960, 9030, 9100, 9170, 9262, 9382, 9452, 9522, 9664, 9782, 9842]
x_6125 = [24, 84, 144, 204, 264, 324, 384, 444, 844, 884, 972, 1124, 1184, 1320, 1392, 1444, 1504, 1564, 1624, 1764, 1852, 1904, 1964, 2024, 2084, 2144, 2224, 2336, 2392, 2484, 2592, 2704, 2764, 2916, 2984, 3044, 3104, 3184, 3296, 3440, 3488, 3568, 3712, 3800, 3860, 3920, 3980, 4040, 4100, 4160, 4220, 4280, 4460, 4520, 4580, 4640, 4700, 4760, 4820, 4880, 4940, 5000, 5060, 5120, 5180, 5240, 5300, 5388, 5480, 5540, 5620, 5680, 5728, 5800, 5860, 6000, 6060, 6120, 6208, 6260, 6380, 6440, 6500, 6560, 6620, 6680, 6740, 6764, 6868, 6988, 7048, 7108, 7168, 7228, 7288, 7348, 7408, 7508, 7608, 7692, 7752, 7812, 7872, 7932, 7992, 8052, 8112, 8172, 8220, 8332, 8364, 8460, 8520, 8580, 8640, 8720, 8772, 8852, 8932, 8992, 9052, 9112, 9172, 9232, 9292, 9372, 9460, 9532, 9580, 9672, 9732, 9792, 9852, 9912]
x_6124 = [4, 64, 124, 184, 244, 312, 364, 424, 484, 584, 624, 812, 896, 1004, 1052, 1140, 1224, 1272, 1392, 1524, 1644, 1704, 1880, 1912, 2132, 2264, 2324, 2384, 2496, 2584, 2644, 2704, 2796, 2844, 2916, 3156, 3288, 3380, 3460, 3600, 3648, 3776, 3840, 3900, 3960, 4020, 4072, 4320, 4380, 4440, 4500, 4560, 4620, 4672, 4748, 4812, 4880, 4948, 5044, 5160, 5272, 5340, 5420, 5520, 5580, 5740, 5800, 5880, 5960, 6072, 6140, 6200, 6260, 6320, 6380, 6440, 6500, 6560, 6680, 6820, 6868, 6928, 7000, 7084, 7132, 7204, 7304, 7364, 7420, 7492, 7552, 7612, 7692, 7812, 7860, 7932, 7992, 8044, 8172, 8252, 8312, 8380, 8460, 8520, 8584, 8652, 8712, 8780, 8912, 9016, 9148, 9232, 9292, 9372, 9652, 9712, 9812, 9892]
x_6123 = [36, 156, 204, 264, 492, 544, 676, 724, 776, 824, 872, 920, 996, 1068, 1260, 1440, 1512, 1576, 1644, 1672, 1824, 1884, 1944, 2040, 2172, 2232, 2436, 2472, 2604, 2652, 2696, 2784, 2856, 2928, 3024, 3136, 3204, 3312, 3392, 3520, 3628, 3720, 3808, 3920, 3980, 4040, 4100, 4180, 4276, 4380, 4440, 4520, 4608, 4700, 4760, 4820, 4900, 4960, 5092, 5168, 5240, 5328, 5416, 5532, 5640, 5700, 5780, 5880, 5940, 6000, 6140, 6208, 6280, 6340, 6400, 6592, 6700, 6760, 6820, 6872, 6932, 6992, 7052, 7204, 7252, 7332, 7392, 7452, 7512, 7592, 7652, 7712, 7772, 7832, 7892, 7952, 8012, 8092, 8232, 8292, 8352, 8412, 8472, 8532, 8592, 8692, 8752, 8812, 8872, 8932, 8992, 9052, 9152, 9212, 9272, 9324, 9392, 9452, 9588, 9684, 9740, 9812, 9872]
x_6122 = [324, 432, 516, 564, 612, 656, 696, 768, 888, 936, 984, 1056, 1144, 1192, 1428, 1584, 1644, 1908, 2004, 2064, 2136, 2352, 2448, 2544, 3064, 3112, 3216, 3324, 3380, 3440, 3500, 3560, 3660, 3720, 3760, 3960, 4020, 4144, 4208, 4272, 4448, 4500, 4612, 4672, 4948, 5092, 5200, 5248, 5308, 5488, 5540, 5656, 5784, 5840, 6076, 6148, 6224, 6412, 6544, 6712, 6732, 6940, 7020, 7180, 7384, 7492, 7544, 7648, 7972, 8052, 8224, 8272, 8332, 8392, 8452, 8668, 8716, 8788, 9192, 9292, 9436, 9556, 9732, 9780, 9832]
x_6121 = [48, 152, 216, 364, 432, 744, 912, 1092, 1320, 1476, 1584, 1848, 1968, 1992, 2244, 2280, 2412, 2448, 2628, 2696, 2736, 2988, 3044, 3096, 3420, 3448, 3736, 4060, 4408, 4492, 4588, 4768, 4864, 4968, 5008, 5140, 5200, 5320, 5368, 5432, 5480, 5584, 5640, 5720, 5860, 5920, 5980, 6032, 6100, 6160, 6380, 6532, 6592, 6688, 6808, 6812, 6872, 6932, 6980, 7144, 7252, 7408, 7512, 7572, 7632, 7720, 7820, 7872, 8152, 8248, 8392, 8540, 8612, 8672, 8732, 8876, 9000, 9088, 9148, 9544, 9616, 9724, 9784, 9844]
x_6120 = [64, 112, 216, 276, 864, 1152, 1224, 1308, 1344, 1376, 1776, 1944, 2004, 2100, 2808, 3096, 3216, 3264, 3496, 3796, 3952, 4020, 4072, 4168, 4372, 4420, 4472, 4528, 4624, 4744, 4792, 4924, 5152, 5200, 5248, 5344, 5400, 5448, 5560, 5748, 5932, 5980, 6020, 6072, 6196, 6616, 6676, 6736, 6752, 6940, 7420, 7452, 7540, 7712, 7764, 7840, 7960, 8052, 8092, 8176, 8404, 8500, 8596, 8632, 8684, 9160, 9212, 9364, 9636, 9760, 9844, 9892]
x_6119 = [12, 284, 396, 456, 924, 1188, 1476, 1872, 2136, 2616, 2712, 2904, 3084, 3628, 3796, 3976, 4096, 4240, 4408, 4708, 4840, 4888, 4940, 4980, 5260, 5380, 5432, 5480, 5536, 5872, 6136, 6244, 6616, 6988, 7012, 7324, 7396, 7696, 7804, 7900, 7948, 8020, 8692, 8740, 8824, 8872, 9652, 9748, 9820]
x_6118 = [348, 484, 512, 684, 976, 1016, 1236, 2316, 2520, 2820, 3036, 3084, 3400, 3904, 4228, 4360, 4392, 4480, 4588, 4756, 4936, 5032, 5104, 5356, 5408, 5480, 5644, 5848, 5896, 6012, 6060, 6100, 6172, 6340, 6496, 6592, 6736, 6792, 6928, 7168, 7300, 7352, 7420, 7672, 7812, 7880, 8112, 8172, 8500, 8872, 8900, 9388, 9508, 9712, 9892]
x_6117 = [624, 912, 1080, 2352, 2460, 2628, 3012, 3172, 3324, 4348, 4576, 4624, 5284, 5328, 5620, 5720, 5800, 5908, 6184, 6436, 7036, 7156, 8224, 8632, 9316, 9352, 9616, 9752]
x_6116 = [900, 1284, 1428, 2036, 2280, 3988, 4192, 4420, 4480, 4540, 4780, 4888, 4960, 5200, 5428, 5460, 5504, 5572, 5896, 5924, 6036, 6400, 6440, 6520, 6952, 7844, 7940, 9364, 9688]
x_6115 = [2424, 2456, 2892, 4216, 4900, 5140, 5416, 7828, 7900, 8284]
x_6114 = [1272, 1344, 2832, 3108, 5668, 8740]
x_6113 = [1500, 3844, 4204, 4732, 5992, 6100, 6132, 6628, 7780, 8032, 8476]
x_6112 = [1212, 3544, 3952, 4468, 4672, 6076, 6568, 9808, 9868]
x_6109 = [4000]
x_6108 = [576, 1524, 6340]
x_6106 = [8272]

levels = [6168, 6161, 6158, 6157, 6156, 6155, 6154, 6153, 6152, 6151, 6150, 6149, 6148, 6147,
          6146, 6145, 6144, 6143, 6142, 6141, 6140, 6139, 6138, 6137, 6136, 6135, 6134, 6133,
          6132, 6131, 6130, 6129, 6128, 6127, 6126, 6125, 6124, 6123, 6122, 6121, 6120, 6119,
          6118, 6117, 6116, 6115, 6114, 6113, 6112, 6109, 6108, 6106]
rows = [x_6168, x_6161, x_6158, x_6157, x_6156, x_6155, x_6154, x_6153, x_6152, x_6151, x_6150, x_6149, x_6148, x_6147,
        x_6146, x_6145, x_6144, x_6143, x_6142, x_6141, x_6140, x_6139, x_6138, x_6137, x_6136, x_6135, x_6134, x_6133,
        x_6132, x_6131, x_6130, x_6129, x_6128, x_6127, x_6126, x_6125, x_6124, x_6123, x_6122, x_6121, x_6120, x_6119,
        x_6118, x_6117, x_6116, x_6115, x_6114, x_6113, x_6112, x_6109, x_6108, x_6106]

df = pd.DataFrame({
    'sample': np.concatenate(rows),
    'adc': np.repeat(levels, [len(r) for r in rows]),
})

fig, ax = plt.subplots(figsize=(10, 10), dpi=100)
sns.scatterplot(data=df, x='sample', y='adc', color='black', s=18, linewidth=0, zorder=2,
                label='Samples\n$\\mu$ = 6134.49, $\\sigma$ = 7.51', ax=ax)
ax.set_xlim(-497, 10406)
ax.set_ylim(6102.95, 6171.05)
ax.grid(True)
ax.set_xlabel('Sample #')
ax.set_ylabel('ADC Counts')
ax.set_title('Run 526, channel043, Pedestal')
ax.legend(loc='upper right')
fig.subplots_adjust(left=0.0805, right=0.985, top=0.964, bottom=0.059)
fig.savefig('out.png')
